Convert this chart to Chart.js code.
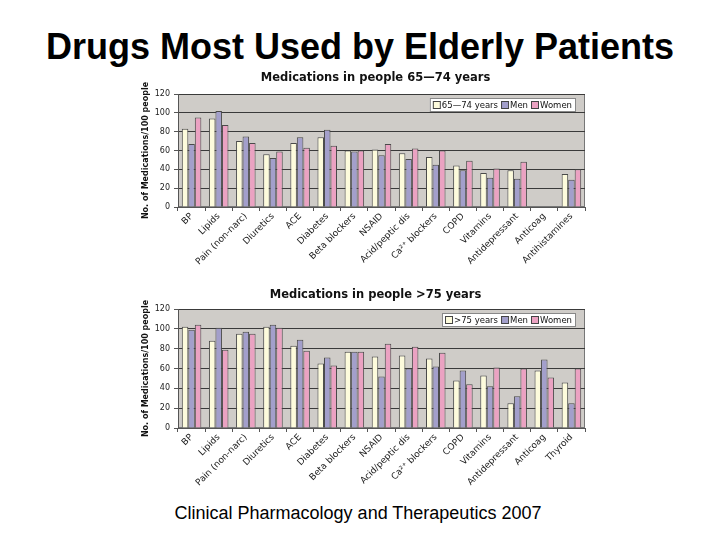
<!DOCTYPE html>
<html lang="en">
  <head>
    <meta charset="UTF-8" />
    <title>Drugs Most Used by Elderly Patients</title>
    <script src="https://cdn.jsdelivr.net/npm/chart.js@4.4.0/dist/chart.umd.min.js"></script>
    <style>
      body { margin: 0; width: 720px; height: 540px; background: #fff; position: relative; overflow: hidden; }
      #title { position: absolute; top: 26px; left: 0; width: 720px; text-align: center;
        font: bold 36px 'Liberation Sans', Arial, sans-serif; line-height: 42px; color: #000; }
      #source { position: absolute; top: 503px; left: 0; width: 716px; text-align: center;
        font: 18px 'Liberation Sans', Arial, sans-serif; line-height: 20px; color: #000; }
      .box { position: absolute; left: 140px; }
    </style>
  </head>
  <body>
    <div id="title">Drugs Most Used by Elderly Patients</div>
    <div class="box" style="top: 68px"><canvas id="young" width="464" height="215"></canvas></div>
    <div class="box" style="top: 286px"><canvas id="old" width="464" height="210"></canvas></div>
    <div id="source">Clinical Pharmacology and Therapeutics 2007</div>
    <script>
      var youngLabels = ['BP', 'Lipids', 'Pain (non-narc)', 'Diuretics', 'ACE', 'Diabetes', 'Beta blockers', 'NSAID',
        'Acid/peptic dis', 'Ca\u00b2\u207a blockers', 'COPD', 'Vitamins', 'Antidepressant', 'Anticoag', 'Antihistamines'];
      var youngAll = [83, 94, 70, 56, 68, 74, 60, 61, 57, 53, 44, 36, 39, null, 35];
      var youngMen = [67, 102, 75, 52, 74, 82, 59, 55, 51, 45, 39, 31, 30, null, 29];
      var youngWomen = [95, 87, 68, 59, 63, 65, 60, 67, 62, 60, 49, 41, 48, null, 40];

      var oldLabels = ['BP', 'Lipids', 'Pain (non-narc)', 'Diuretics', 'ACE', 'Diabetes', 'Beta blockers', 'NSAID',
        'Acid/peptic dis', 'Ca\u00b2\u207a blockers', 'COPD', 'Vitamins', 'Antidepressant', 'Anticoag', 'Thyroid'];
      var oldAll = [102, 88, 95, 102, 83, 65, 77, 72, 73, 70, 48, 53, 25, 58, 46];
      var oldMen = [99, 101, 97, 104, 89, 71, 77, 52, 60, 62, 58, 42, 32, 69, 25];
      var oldWomen = [104, 79, 95, 101, 78, 63, 77, 85, 82, 76, 44, 61, 60, 51, 60];

      var FONT = "'DejaVu Sans', Verdana, sans-serif";
      var colors = ['#fdfbdc', '#a39fcb', '#eba2c2'];

      // grey plot background + frame, drawn under the grid
      var plotBg = {
        id: 'plotBg',
        beforeDraw(chart) {
          var a = chart.chartArea, ctx = chart.ctx;
          ctx.save();
          ctx.fillStyle = '#cfccc8';
          ctx.fillRect(a.left, a.top, a.right - a.left, a.bottom - a.top);
          ctx.strokeStyle = '#777';
          ctx.lineWidth = 1;
          ctx.strokeRect(a.left + 0.5, a.top + 0.5, a.right - a.left - 1, a.bottom - a.top - 1);
          ctx.restore();
        }
      };

      // chart heading, centred a little left of the plot centre like the original
      var plotTitle = {
        id: 'plotTitle',
        afterDraw(chart, args, opts) {
          var a = chart.chartArea, ctx = chart.ctx;
          ctx.save();
          ctx.font = 'bold 11.5px ' + FONT;
          ctx.fillStyle = '#111';
          ctx.textAlign = 'center';
          ctx.textBaseline = 'middle';
          ctx.fillText(opts.text, (a.left + a.right) / 2 - 6, opts.y);
          ctx.restore();
        }
      };

      // excel-like legend box in the top right corner of the plot
      var boxLegend = {
        id: 'boxLegend',
        afterDraw(chart) {
          var a = chart.chartArea, ctx = chart.ctx;
          var sets = chart.data.datasets;
          ctx.save();
          ctx.font = '8.5px ' + FONT;
          var w = 3;
          sets.forEach((d) => { w += 9 + ctx.measureText(d.label).width + 3; });
          var h = 13, x = a.right - 10 - w, y = a.top + 4;
          ctx.fillStyle = '#fff';
          ctx.fillRect(x, y, w, h);
          ctx.strokeStyle = '#888';
          ctx.strokeRect(x + 0.5, y + 0.5, w, h);
          var cx = x + 3;
          sets.forEach((d) => {
            ctx.fillStyle = d.backgroundColor;
            ctx.fillRect(cx, y + 3, 7, 7);
            ctx.strokeStyle = '#444';
            ctx.strokeRect(cx + 0.5, y + 3.5, 7, 7);
            cx += 9;
            ctx.fillStyle = '#111';
            ctx.textBaseline = 'middle';
            ctx.fillText(d.label, cx, y + h / 2 + 1);
            cx += ctx.measureText(d.label).width + 3;
          });
          ctx.restore();
        }
      };

      function makeChart(id, title, groupName, labels, all, men, women, titleY, top, axisHeight) {
        var series = [groupName, 'Men', 'Women'];
        var values = [all, men, women];
        return new Chart(document.getElementById(id), {
          type: 'bar',
          data: {
            labels: labels,
            datasets: series.map((s, i) => ({
              label: s,
              data: values[i],
              backgroundColor: colors[i],
              borderColor: '#4a4a4a',
              borderWidth: 1,
              categoryPercentage: 0.72,
              barPercentage: 1.0
            }))
          },
          plugins: [plotBg, boxLegend, plotTitle],
          options: {
            responsive: false,
            animation: false,
            layout: { padding: { top: top, right: 19 } },
            plugins: {
              legend: { display: false },
              tooltip: { enabled: false },
              title: { display: false },
              plotTitle: { text: title, y: titleY }
            },
            scales: {
              x: {
                grid: { drawOnChartArea: false, tickLength: 4, color: '#555' },
                border: { color: '#555' },
                ticks: {
                  autoSkip: false, maxRotation: 45, minRotation: 45, padding: 0,
                  color: '#222', font: { family: FONT, size: 9 }
                },
                afterFit: (s) => { s.height = axisHeight; }
              },
              y: {
                min: 0,
                max: 120,
                grid: { color: '#3a3a3a', tickLength: 4, tickColor: '#555' },
                border: { color: '#555' },
                ticks: { stepSize: 20, padding: 4, color: '#222', font: { family: FONT, size: 8 } },
                title: {
                  display: true,
                  text: 'No. of Medications/100 people',
                  color: '#111',
                  font: { family: FONT, size: 8, weight: 'bold' },
                  padding: 1
                },
                afterFit: (s) => { s.width = 38; }
              }
            }
          }
        });
      }

      makeChart('young', 'Medications in people 65\u201474 years', '65\u201474 years', youngLabels,
        youngAll, youngMen, youngWomen, 10, 26, 76);
      makeChart('old', 'Medications in people >75 years', '>75 years', oldLabels,
        oldAll, oldMen, oldWomen, 9, 23, 68);
    </script>
  </body>
</html>
